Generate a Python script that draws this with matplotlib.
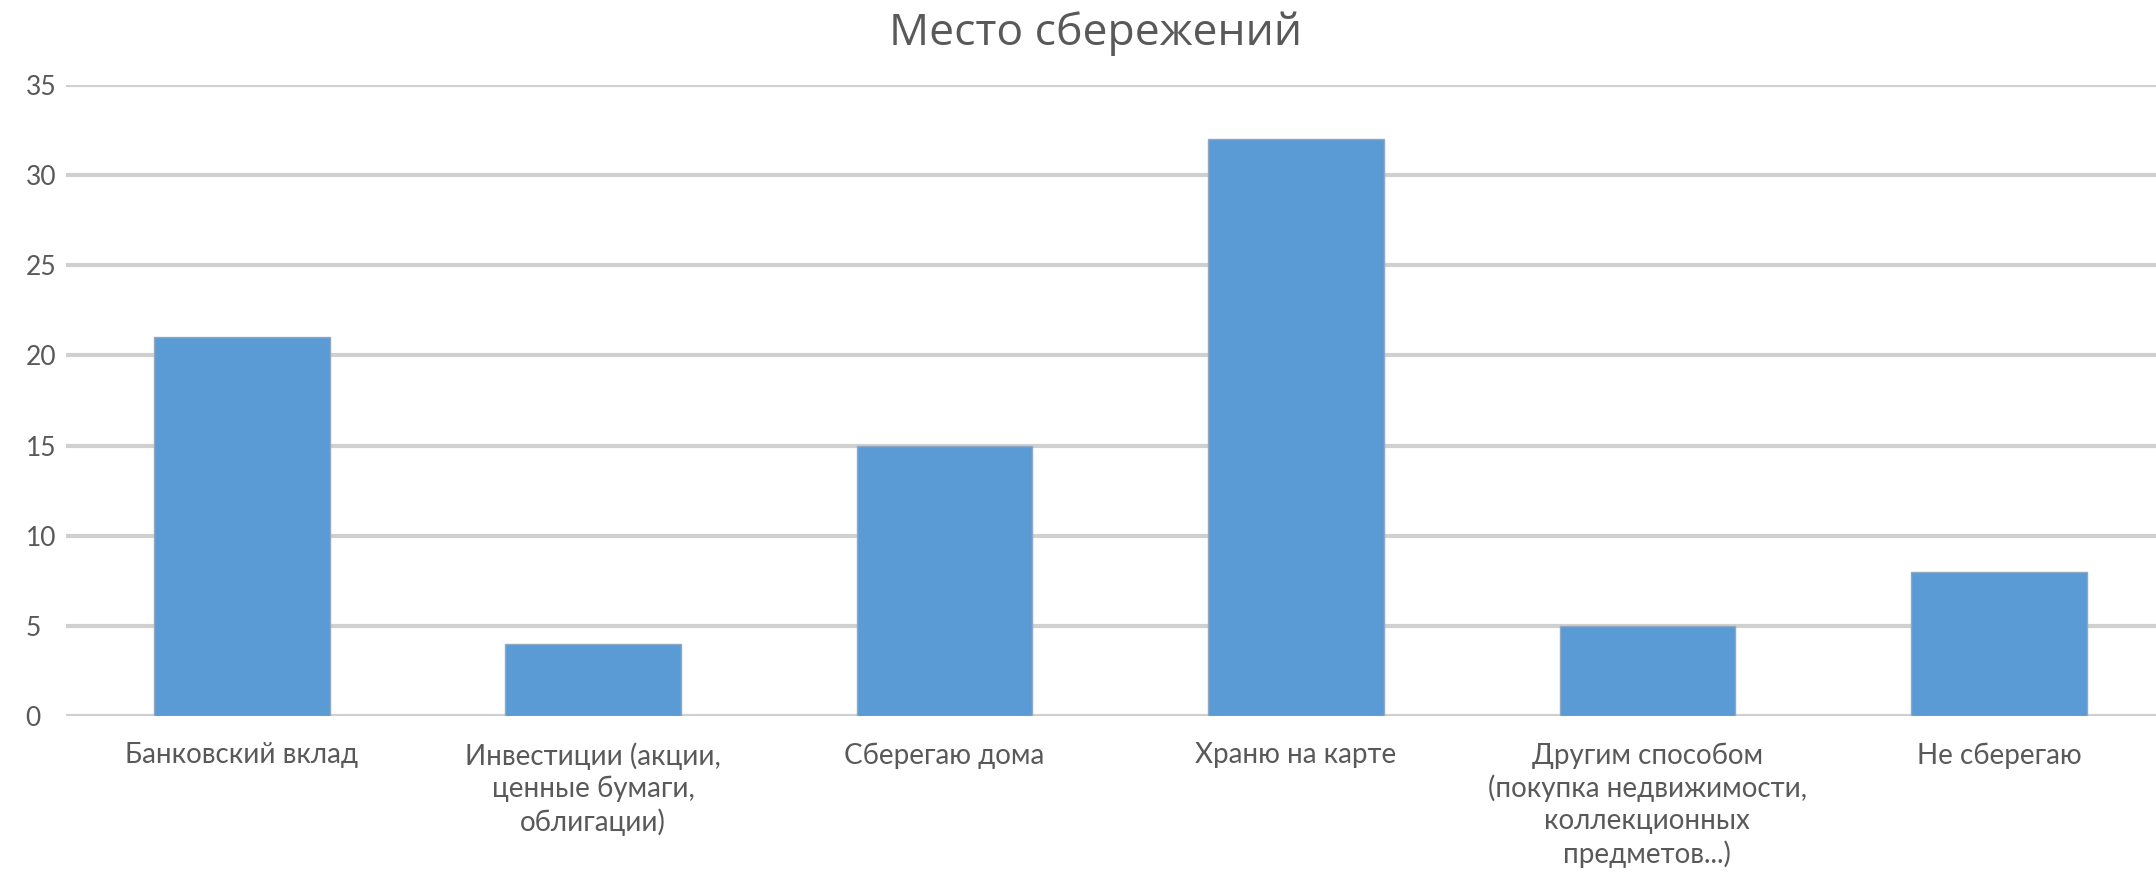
import matplotlib
matplotlib.use("Agg")
import matplotlib.pyplot as plt
import numpy as np

# Данные
categories = [
    "Банковский вклад",
    "Инвестиции (акции,\nценные бумаги,\nоблигации)",
    "Сберегаю дома",
    "Храню на карте",
    "Другим способом\n(покупка недвижимости,\nколлекционных\nпредметов...)",
    "Не сберегаю",
]
values = [21, 4, 15, 32, 5, 8]
y_ticks = [0, 5, 10, 15, 20, 25, 30, 35]
title = "Место сбережений"

plt.rcParams["font.family"] = ["Lato", "DejaVu Sans"]

BAR = "#5B9BD5"
GRID = "#D0D0D0"
TXT = "#595959"

fig = plt.figure(figsize=(21.56, 8.85), dpi=100)
ax = fig.add_axes([0.0306, 0.191, 0.978, 0.713])

x = np.arange(len(categories))
ax.bar(x, values, width=0.5, color=BAR, edgecolor="#8FA9C4", linewidth=1, zorder=3)

ax.set_xlim(-0.5, len(categories) - 0.5)
ax.set_ylim(0, 35)
ax.set_yticks(y_ticks)
ax.set_yticklabels([str(t) for t in y_ticks], ha="left")
ax.yaxis.grid(True, color=GRID, linewidth=3, zorder=0)
ax.set_axisbelow(True)
for s in ax.spines.values():
    s.set_visible(False)

ax.set_xticks(x)
ax.set_xticklabels(categories, fontsize=20, color=TXT, linespacing=1.27, va="top")
ax.tick_params(axis="x", length=0, pad=19)
# подписи оси Y выровнены по левому краю, как в Excel
ax.tick_params(axis="y", length=0, labelsize=19, labelcolor=TXT, pad=29)

fig.text(0.508, 0.962, title, ha="center", va="center", fontsize=32,
         color=TXT, family=["Open Sans", "DejaVu Sans"])

fig.savefig("out.png", dpi=100, facecolor="white")
